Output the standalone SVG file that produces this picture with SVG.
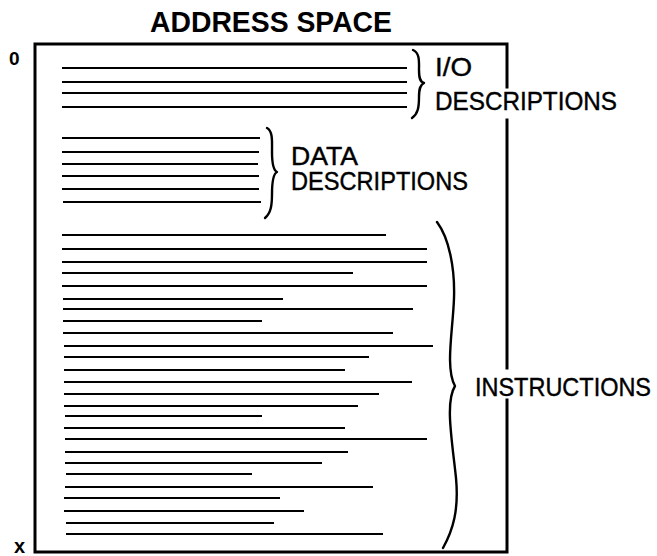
<svg xmlns="http://www.w3.org/2000/svg" width="657" height="556" viewBox="0 0 657 556">
<style>
  .bg { fill: #ffffff; }
  .box { stroke: #000; stroke-width: 3; fill: none; stroke-linecap: square; }
  .ln { stroke: #000; stroke-width: 2.2; fill: none; }
  .brace { stroke: #000; stroke-width: 2.4; fill: none; stroke-linecap: round; stroke-linejoin: round; }
  .lbl { font-family: "Liberation Sans", Arial, sans-serif; font-size: 25px; fill: #000; stroke: #000; stroke-width: 0.4; }
  .title { font-family: "Liberation Sans", Arial, sans-serif; font-size: 29px; font-weight: bold; fill: #000; }
  .zero { font-family: "Liberation Sans", Arial, sans-serif; font-size: 19px; font-weight: bold; fill: #000; }
  .ex { font-family: "Liberation Sans", Arial, sans-serif; font-size: 20px; font-weight: bold; fill: #000; }
</style>
<rect class="bg" x="0" y="0" width="657" height="556"/>

<g id="title">
  <text class="title" x="150" y="32" textLength="242" lengthAdjust="spacingAndGlyphs">ADDRESS SPACE</text>
</g>

<g id="address-box">
  <path class="box" d="M507,87 L507,44 L35,44 L35,552 L507,552 L507,400"/>
  <path class="box" d="M507,120 L507,368"/>
  <text class="zero" x="9" y="65">0</text>
  <text class="ex" x="14" y="553">x</text>
</g>

<g id="io-descriptions">
  <line class="ln" x1="62" y1="68" x2="407" y2="68"/>
  <line class="ln" x1="62" y1="82" x2="407" y2="82"/>
  <line class="ln" x1="62" y1="93" x2="407" y2="93"/>
  <line class="ln" x1="62" y1="107" x2="407" y2="107"/>
  <text class="lbl" x="435" y="76" textLength="37" lengthAdjust="spacingAndGlyphs">I/O</text>
  <text class="lbl" x="435" y="110" textLength="182" lengthAdjust="spacingAndGlyphs">DESCRIPTIONS</text>
</g>

<g id="data-descriptions">
  <line class="ln" x1="62" y1="138" x2="260" y2="138"/>
  <line class="ln" x1="62" y1="152" x2="259" y2="152"/>
  <line class="ln" x1="62" y1="164" x2="258" y2="164"/>
  <line class="ln" x1="62" y1="176" x2="259" y2="176"/>
  <line class="ln" x1="62" y1="189" x2="259" y2="189"/>
  <line class="ln" x1="63" y1="202" x2="261" y2="202"/>
  <text class="lbl" x="291" y="165" textLength="67" lengthAdjust="spacingAndGlyphs">DATA</text>
  <text class="lbl" x="291" y="190" textLength="177" lengthAdjust="spacingAndGlyphs">DESCRIPTIONS</text>
</g>

<g id="instructions">
  <line class="ln" x1="62" y1="235" x2="386" y2="235"/>
  <line class="ln" x1="62" y1="249" x2="427" y2="249"/>
  <line class="ln" x1="62" y1="262" x2="427" y2="262"/>
  <line class="ln" x1="62" y1="273" x2="353" y2="273"/>
  <line class="ln" x1="62" y1="286" x2="427" y2="286"/>
  <line class="ln" x1="63" y1="299" x2="283" y2="299"/>
  <line class="ln" x1="63" y1="309" x2="413" y2="309"/>
  <line class="ln" x1="63" y1="321" x2="262" y2="321"/>
  <line class="ln" x1="63" y1="333" x2="393" y2="333"/>
  <line class="ln" x1="64" y1="346" x2="433" y2="346"/>
  <line class="ln" x1="64" y1="357" x2="369" y2="357"/>
  <line class="ln" x1="64" y1="370" x2="345" y2="370"/>
  <line class="ln" x1="64" y1="382" x2="412" y2="382"/>
  <line class="ln" x1="64" y1="394" x2="379" y2="394"/>
  <line class="ln" x1="64" y1="406" x2="358" y2="406"/>
  <line class="ln" x1="65" y1="416" x2="262" y2="416"/>
  <line class="ln" x1="64" y1="428" x2="345" y2="428"/>
  <line class="ln" x1="65" y1="439" x2="427" y2="439"/>
  <line class="ln" x1="65" y1="452" x2="348" y2="452"/>
  <line class="ln" x1="65" y1="463" x2="322" y2="463"/>
  <line class="ln" x1="66" y1="474" x2="252" y2="474"/>
  <line class="ln" x1="65" y1="487" x2="373" y2="487"/>
  <line class="ln" x1="64" y1="498" x2="280" y2="498"/>
  <line class="ln" x1="64" y1="511" x2="304" y2="511"/>
  <line class="ln" x1="66" y1="523" x2="274" y2="523"/>
  <line class="ln" x1="66" y1="534" x2="383" y2="534"/>
  <text class="lbl" x="475" y="396" textLength="176" lengthAdjust="spacingAndGlyphs">INSTRUCTIONS</text>
</g>

<g id="connectors">
  <path class="brace" d="M413,50 C420,53 419,62 419,70 C419,78 420,82 424,83 C420,85 419,89 419,97 C419,107 418,114 412,118"/>
  <path class="brace" d="M267,128 C273,131 272,142 272,152 C272,162 273,170 277,172 C273,174 272,182 272,194 C272,205 271,213 265,218"/>
  <path class="brace" d="M437,222 C449,238 455,268 454,298 C453,330 445,368 455,386 C445,402 452,440 456,478 C459,510 453,530 443,548"/>
</g>
</svg>
